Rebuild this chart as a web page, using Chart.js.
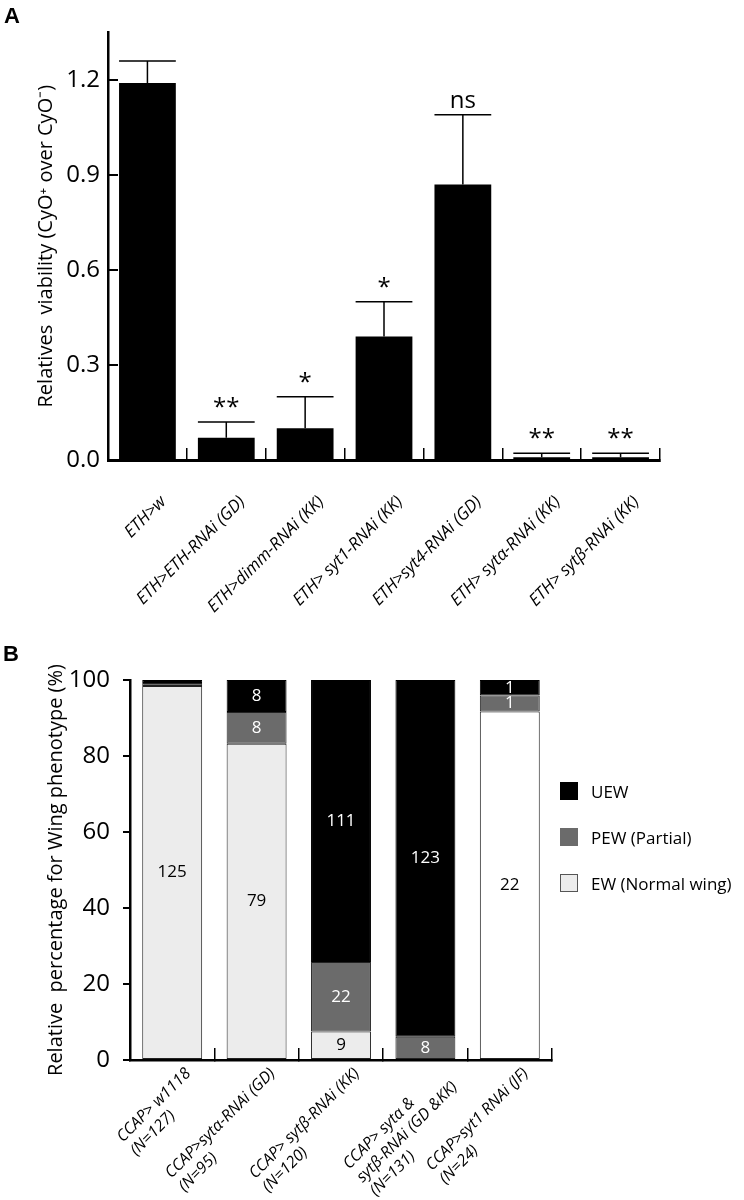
<!DOCTYPE html>
<html>
<head>
<meta charset="utf-8">
<script src="https://cdn.jsdelivr.net/npm/chart.js"></script>
<style>
  body { margin: 0; background: #fff; }
  #page { position: relative; width: 744px; height: 1200px; background: #fff; }
  .panel { position: absolute; font: bold 22px "Liberation Sans", Arial, sans-serif; color: #000; }
  #boxA { position: absolute; left: 0; top: 0; }
  #boxB { position: absolute; left: 0; top: 640px; }
  #legendB { position: absolute; left: 560px; top: 781px; font: 17px "Open Sans", sans-serif; color: #000; }
  #legendB .item { display: flex; align-items: center; height: 20px; margin-bottom: 26px; white-space: nowrap; }
  #legendB .box { display: inline-block; width: 18px; height: 18px; margin-right: 13px; box-sizing: border-box; }
</style>
</head>
<body>
<div id="page">
  <div id="boxA"><canvas id="chartA" width="744" height="640"></canvas></div>
  <div id="boxB"><canvas id="chartB" width="744" height="560"></canvas></div>
  <div class="panel" style="left:4px;top:3px">A</div>
  <div class="panel" style="left:3px;top:641px">B</div>
  <div id="legendB"></div>
</div>
<script>
// panel A: relative viability
const catsA = ['ETH>w', 'ETH>ETH-RNAi (GD)', 'ETH>dimm-RNAi (KK)', 'ETH> syt1-RNAi (KK)',
  'ETH>syt4-RNAi (GD)', 'ETH> sytα-RNAi (KK)', 'ETH> sytβ-RNAi (KK)'];
const viability = [1.19, 0.07, 0.10, 0.39, 0.87, 0.009, 0.009];
const viabilityErr = [0.07, 0.05, 0.10, 0.11, 0.22, 0.012, 0.012];
const signif = ['', '**', '*', '*', 'ns', '**', '**'];
const yTicksA = [0, 0.3, 0.6, 0.9, 1.2];

// panel B: wing phenotype (percent of flies, counts printed in the bars)
const catsB = [
  ['CCAP> w1118', '(N=127)'],
  ['CCAP>sytα-RNAi (GD)', '(N=95)'],
  ['CCAP> sytβ-RNAi (KK)', '(N=120)'],
  ['CCAP> sytα &', 'sytβ-RNAi (GD &KK)', '(N=131)'],
  ['CCAP>syt1 RNAi (JF)', '(N=24)']
];
const ewPct = [98.4, 83.2, 7.5, 0, 91.7];
const pewPct = [0.8, 8.4, 18.3, 6.1, 4.2];
const uewPct = [0.8, 8.4, 74.2, 93.9, 4.1];
const ewN = [125, 79, 9, 0, 22];
const pewN = [1, 8, 22, 8, 1];
const uewN = [1, 8, 111, 123, 1];
const yTicksB = [0, 20, 40, 60, 80, 100];

Chart.defaults.font.family = '"Open Sans", sans-serif';
Chart.defaults.color = '#000';
Chart.defaults.animation = false;

// error bars + significance marks on top of panel A bars
const errorBars = {
  id: 'errorBars',
  afterDatasetsDraw(chart) {
    const ctx = chart.ctx;
    const y = chart.scales.y;
    ctx.save();
    ctx.strokeStyle = '#000';
    ctx.fillStyle = '#000';
    ctx.lineWidth = 1.5;
    ctx.font = '24px "Open Sans", sans-serif';
    ctx.textAlign = 'center';
    ctx.textBaseline = 'alphabetic';
    chart.getDatasetMeta(0).data.forEach((bar, i) => {
      const top = y.getPixelForValue(viability[i] + viabilityErr[i]);
      const half = bar.width / 2;
      ctx.beginPath();
      ctx.moveTo(bar.x, bar.y);
      ctx.lineTo(bar.x, top);
      ctx.moveTo(bar.x - half, top);
      ctx.lineTo(bar.x + half, top);
      ctx.stroke();
      if (signif[i]) ctx.fillText(signif[i], bar.x, top - 7);
    });
    ctx.restore();
  }
};

// counts written inside the stacked segments of panel B
const countLabels = {
  id: 'countLabels',
  afterDatasetsDraw(chart) {
    const ctx = chart.ctx;
    ctx.save();
    ctx.font = '17px "Open Sans", sans-serif';
    ctx.textAlign = 'center';
    ctx.textBaseline = 'middle';
    chart.data.datasets.forEach((ds, d) => {
      chart.getDatasetMeta(d).data.forEach((bar, i) => {
        if (ds.data[i] < 3) return;
        ctx.fillStyle = ds.textColor;
        ctx.fillText(String(ds.counts[i]), bar.x, (bar.y + bar.base) / 2);
      });
    });
    ctx.restore();
  }
};

// panel B category names: rotated, multi-line, lines left aligned
const slantedLabels = {
  id: 'slantedLabels',
  afterDraw(chart) {
    const x = chart.scales.x;
    const ctx = chart.ctx;
    ctx.save();
    ctx.font = 'italic 16px "Open Sans", sans-serif';
    ctx.fillStyle = '#000';
    ctx.textAlign = 'left';
    ctx.textBaseline = 'middle';
    catsB.forEach((lines, i) => {
      const w = Math.max(...lines.map(t => ctx.measureText(t).width));
      ctx.save();
      ctx.translate(x.getPixelForTick(i) + 16, x.top + 11);
      ctx.rotate(-Math.PI / 4);
      lines.forEach((t, k) => ctx.fillText(t, -w, k * 19));
      ctx.restore();
    });
    ctx.restore();
  }
};

// html legend for panel B, top series first
const htmlLegend = {
  id: 'htmlLegend',
  afterUpdate(chart) {
    const box = document.getElementById('legendB');
    box.innerHTML = '';
    chart.data.datasets.slice().reverse().forEach(ds => {
      const fill = Array.isArray(ds.backgroundColor) ? ds.backgroundColor[0] : ds.backgroundColor;
      const item = document.createElement('div');
      item.className = 'item';
      const sw = document.createElement('span');
      sw.className = 'box';
      sw.style.background = fill;
      sw.style.border = '1px solid ' + (ds.legendBorder || fill);
      item.appendChild(sw);
      item.appendChild(document.createTextNode(ds.label));
      box.appendChild(item);
    });
  }
};

new Chart(document.getElementById('chartA'), {
  type: 'bar',
  data: {
    labels: catsA,
    datasets: [{
      data: viability,
      backgroundColor: '#000',
      borderWidth: 0,
      barPercentage: 0.72,
      categoryPercentage: 1
    }]
  },
  options: {
    responsive: false,
    layout: { padding: { top: 20, right: 84, left: 0, bottom: 0 } },
    plugins: { legend: { display: false }, tooltip: { enabled: false } },
    scales: {
      x: {
        afterFit(s) { s.height = 180; },
        border: { color: '#000', width: 3 },
        grid: { offset: true, drawOnChartArea: false, tickLength: -12, color: '#000', lineWidth: 1.5 },
        ticks: {
          autoSkip: false, minRotation: 45, maxRotation: 45, padding: 44, labelOffset: 16,
          font: { size: 17, style: 'italic' }
        }
      },
      y: {
        min: 0,
        max: 1.35,
        afterFit(s) { s.width = 108; },
        afterBuildTicks(s) { s.ticks = yTicksA.map(v => ({ value: v })); },
        border: { color: '#000', width: 2.5 },
        grid: { drawOnChartArea: false, tickLength: -10, color: '#000', lineWidth: 2 },
        ticks: { padding: 18, font: { size: 24 }, callback: v => v.toFixed(1) },
        title: {
          display: true,
          text: 'Relatives  viability (CyO⁺ over CyO⁻)',
          font: { size: 20 },
          padding: { top: 34, bottom: 0 }
        }
      }
    }
  },
  plugins: [errorBars]
});

new Chart(document.getElementById('chartB'), {
  type: 'bar',
  data: {
    labels: catsB,
    datasets: [
      {
        label: 'EW (Normal wing)', data: ewPct, counts: ewN, textColor: '#000',
        backgroundColor: ['#ececec', '#ececec', '#ececec', '#ececec', '#ffffff'],
        borderColor: '#222', borderWidth: 1, borderSkipped: false, legendBorder: '#555'
      },
      {
        label: 'PEW (Partial)', data: pewPct, counts: pewN, textColor: '#fff',
        backgroundColor: '#6b6b6b', borderColor: '#222', borderWidth: 1, borderSkipped: false
      },
      {
        label: 'UEW', data: uewPct, counts: uewN, textColor: '#fff',
        backgroundColor: '#000', borderColor: '#000', borderWidth: 1, borderSkipped: false
      }
    ]
  },
  options: {
    responsive: false,
    datasets: { bar: { barPercentage: 0.71, categoryPercentage: 1 } },
    layout: { padding: { top: 40, right: 192, left: 0, bottom: 0 } },
    plugins: { legend: { display: false }, tooltip: { enabled: false } },
    scales: {
      x: {
        stacked: true,
        afterFit(s) { s.height = 140; },
        border: { color: '#000', width: 2.5 },
        grid: { offset: true, drawOnChartArea: false, tickLength: -12, color: '#000', lineWidth: 1.5 },
        ticks: { display: false, autoSkip: false }
      },
      y: {
        stacked: true,
        min: 0,
        max: 100,
        afterFit(s) { s.width = 130; },
        afterBuildTicks(s) { s.ticks = yTicksB.map(v => ({ value: v })); },
        border: { color: '#000', width: 2.5 },
        grid: { drawOnChartArea: false, tickLength: 7, color: '#000', lineWidth: 2 },
        ticks: { padding: 13, font: { size: 24 } },
        title: {
          display: true,
          text: 'Relative  percentage for Wing phenotype (%)',
          font: { size: 20 },
          padding: { top: 44, bottom: 0 }
        }
      }
    }
  },
  plugins: [countLabels, slantedLabels, htmlLegend]
});
</script>
</body>
</html>
